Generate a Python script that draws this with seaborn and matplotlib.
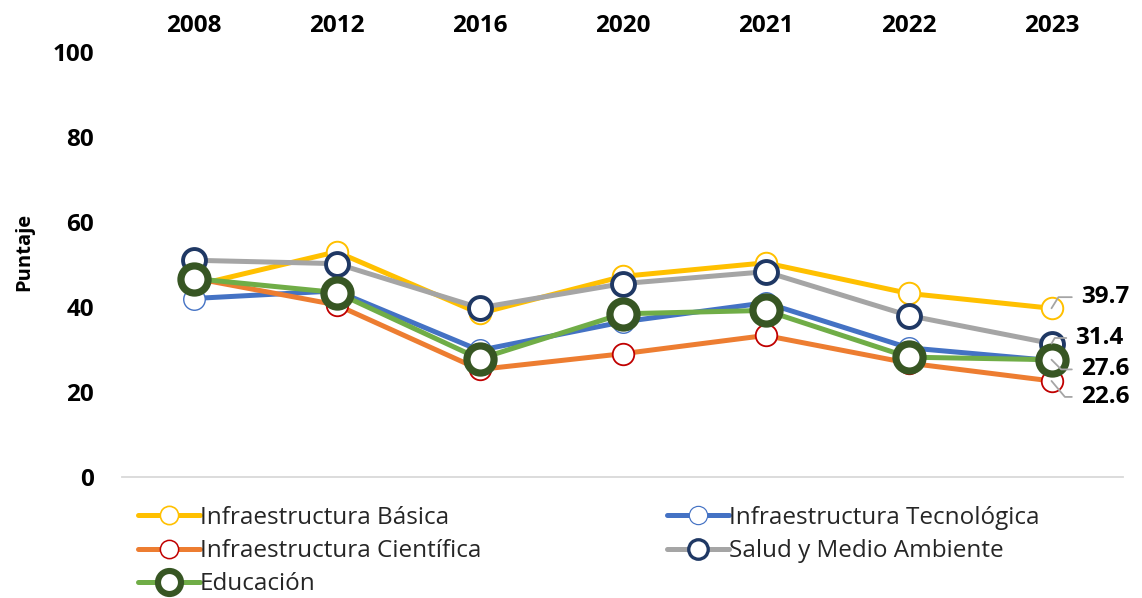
import matplotlib
matplotlib.use("Agg")
import matplotlib.pyplot as plt
from matplotlib.lines import Line2D
import seaborn as sns
import pandas as pd

# Scores by year and category
years = ["2008", "2012", "2016", "2020", "2021", "2022", "2023"]
basica = [45.0, 53.0, 38.5, 47.2, 50.4, 43.2, 39.7]
tecnologica = [42.0, 43.8, 29.8, 36.5, 41.0, 30.4, 27.4]
cientifica = [46.8, 40.5, 25.3, 29.0, 33.3, 26.8, 22.6]
salud = [51.0, 50.2, 39.8, 45.5, 48.3, 38.0, 31.4]
educacion = [46.7, 43.4, 27.8, 38.4, 39.2, 28.2, 27.6]
series_names = ["Infraestructura Básica", "Infraestructura Tecnológica",
                "Infraestructura Científica", "Salud y Medio Ambiente", "Educación"]
y_ticks = [0, 20, 40, 60, 80, 100]

sns.set_theme(style="white")
plt.rcParams["font.family"] = ["Open Sans", "DejaVu Sans"]

# line colour, marker edge colour, marker size, marker edge width, line width
styles = [
    dict(color="#FFC000", mec="#FFC000", ms=15.5, mew=1.4, lw=3.6),
    dict(color="#4472C4", mec="#4472C4", ms=15.5, mew=1.0, lw=3.6),
    dict(color="#ED7D31", mec="#C00000", ms=15.5, mew=1.3, lw=3.6),
    dict(color="#A5A5A5", mec="#1F3864", ms=16.5, mew=2.8, lw=3.6),
    dict(color="#70AD47", mec="#375623", ms=19.5, mew=5.2, lw=3.6),
]
values = [basica, tecnologica, cientifica, salud, educacion]

fig = plt.figure(figsize=(11.42, 5.98), dpi=100)
ax = fig.add_axes([122 / 1142, (598 - 477) / 598, 1001 / 1142, 425 / 598])

for i, (name, vals, st) in enumerate(zip(series_names, values, styles)):
    df = pd.DataFrame({"Año": years, "Puntaje": vals})
    sns.lineplot(data=df, x="Año", y="Puntaje", ax=ax, color=st["color"],
                 linewidth=st["lw"], marker="o", markersize=st["ms"],
                 markerfacecolor="white", markeredgecolor=st["mec"],
                 markeredgewidth=st["mew"], zorder=3 + i, sort=False)

ax.set_xlim(-0.5, len(years) - 0.5)
ax.set_ylim(0, 100)
ax.set_yticks(y_ticks)
ax.set_yticklabels([str(t) for t in y_ticks], fontsize=17.5, fontweight="bold", color="black")
ax.xaxis.tick_top()
ax.set_xticks(range(len(years)))
ax.set_xticklabels(years, fontsize=17.5, fontweight="bold", color="black")
ax.tick_params(axis="y", length=0, pad=20)
ax.tick_params(axis="x", length=0, pad=10)
ax.set_xlabel("")
ax.set_ylabel("Puntaje", fontsize=14.5, fontweight="bold", color="black")
ax.yaxis.set_label_coords(-0.088, 0.53)
for side in ["top", "left", "right"]:
    ax.spines[side].set_visible(False)
ax.spines["bottom"].set_color("#D9D9D9")
ax.spines["bottom"].set_linewidth(1.3)
ax.grid(False)

# Value labels on the last year with leader lines
last = len(years) - 1
label_specs = [
    (basica, (21, 8), 58),
    (salud, (17, 4), 60),
    (educacion, (21, -7), -45),
    (cientifica, (21, -11.5), -50),
]
for vals, off, ang in label_specs:
    ax.annotate(f"{vals[last]:.1f}", xy=(last, vals[last]), xytext=off,
                textcoords="offset points", fontsize=17.5, fontweight="bold",
                color="black", ha="left", va="center", zorder=20,
                arrowprops=dict(arrowstyle="-", color="#A5A5A5", lw=1.3,
                                shrinkA=4, shrinkB=0,
                                connectionstyle=f"angle,angleA=0,angleB={ang},rad=0"))

# Legend filled row by row: two columns
order = [0, 2, 4, 1, 3]
handles = [Line2D([0], [0], color=styles[k]["color"], lw=styles[k]["lw"], marker="o",
                  markersize=styles[k]["ms"] * 0.85, markerfacecolor="white",
                  markeredgecolor=styles[k]["mec"], markeredgewidth=styles[k]["mew"] * 0.85)
           for k in order]
fig.legend(handles, [series_names[k] for k in order], loc="upper left",
           bbox_to_anchor=(138 / 1142, 1 - 506 / 598),
           ncol=2, frameon=False, fontsize=17.5, handlelength=2.55, handletextpad=0.0,
           columnspacing=7.65, labelspacing=0.38, borderaxespad=0, borderpad=0)

fig.savefig("out.png", dpi=100)
